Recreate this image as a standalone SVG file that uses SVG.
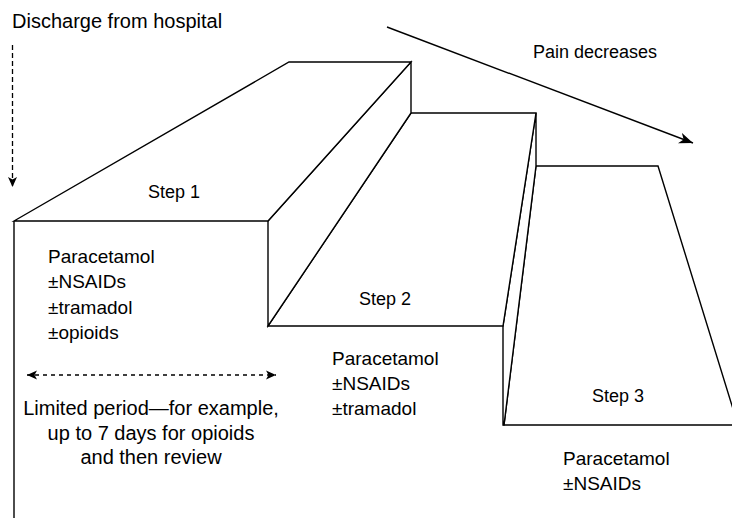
<svg xmlns="http://www.w3.org/2000/svg" width="732" height="518" viewBox="0 0 732 518">
<style>
.face{fill:#fff;stroke:#000;stroke-width:1.4;stroke-linejoin:miter}
.ln{fill:none;stroke:#000;stroke-width:1.4}
.dash{fill:none;stroke:#000;stroke-width:1.3;stroke-dasharray:5 3}
text{font-family:"Liberation Sans",Arial,sans-serif;fill:#000}
.t19{font-size:19px}
.t20{font-size:20px}
.step{font-size:18px;text-anchor:middle}
.mid{text-anchor:middle}
</style>
<defs>
<marker id="ah" viewBox="0 0 10 10" refX="10" refY="5" markerUnits="userSpaceOnUse" markerWidth="10" markerHeight="10" orient="auto-start-reverse">
<path d="M0,0.5 L10,5 L0,9.5 L2.5,5 z" fill="#000"/>
</marker>
<marker id="big" viewBox="0 0 14 12" refX="14" refY="6" markerUnits="userSpaceOnUse" markerWidth="14" markerHeight="12" orient="auto">
<path d="M0,0.5 L14,6 L0,11.5 L4,6 z" fill="#000"/>
</marker>
</defs>
<rect width="732" height="518" fill="#fff"/>

<g id="step3">
<polygon class="face" points="504,425 536,166 658,166 738,425"/>
<text class="step" x="618" y="402">Step 3</text>
<text class="t19" x="563" y="465">Paracetamol</text>
<text class="t19" x="563" y="490">±NSAIDs</text>
</g>

<g id="step2">
<polygon class="face" points="503,326 536,113 536,166 504,425 503,425"/>
<polygon class="face" points="268,326 411,113 536,113 503,326"/>
<text class="step" x="385" y="305">Step 2</text>
<text class="t19" x="332" y="365">Paracetamol</text>
<text class="t19" x="332" y="390">±NSAIDs</text>
<text class="t19" x="332" y="415">±tramadol</text>
</g>

<g id="step1">
<polygon class="face" points="268,221 411,62 411,113 268,326"/>
<polygon class="face" points="14,221 289,62 411,62 268,221"/>
<line class="ln" x1="14" y1="221" x2="14" y2="518"/>
<text class="step" x="174" y="198">Step 1</text>
<text class="t19" x="48" y="263">Paracetamol</text>
<text class="t19" x="48" y="288">±NSAIDs</text>
<text class="t19" x="48" y="314">±tramadol</text>
<text class="t19" x="48" y="339">±opioids</text>
</g>

<g id="labels">
<text class="t20" x="12" y="28">Discharge from hospital</text>
<text x="533" y="58" style="font-size:18px">Pain decreases</text>
<text class="t20 mid" x="151" y="415">Limited period—for example,</text>
<text class="t20 mid" x="151" y="440">up to 7 days for opioids</text>
<text class="t20 mid" x="151" y="464">and then review</text>
</g>

<g id="connectors">
<line class="dash" x1="12.5" y1="45" x2="12.5" y2="187" marker-end="url(#ah)"/>
<line class="dash" x1="27" y1="375" x2="276" y2="375" style="stroke-dasharray:4 4" marker-start="url(#ah)" marker-end="url(#ah)"/>
<line class="ln" x1="387" y1="27" x2="693" y2="143" marker-end="url(#big)"/>
</g>
</svg>
